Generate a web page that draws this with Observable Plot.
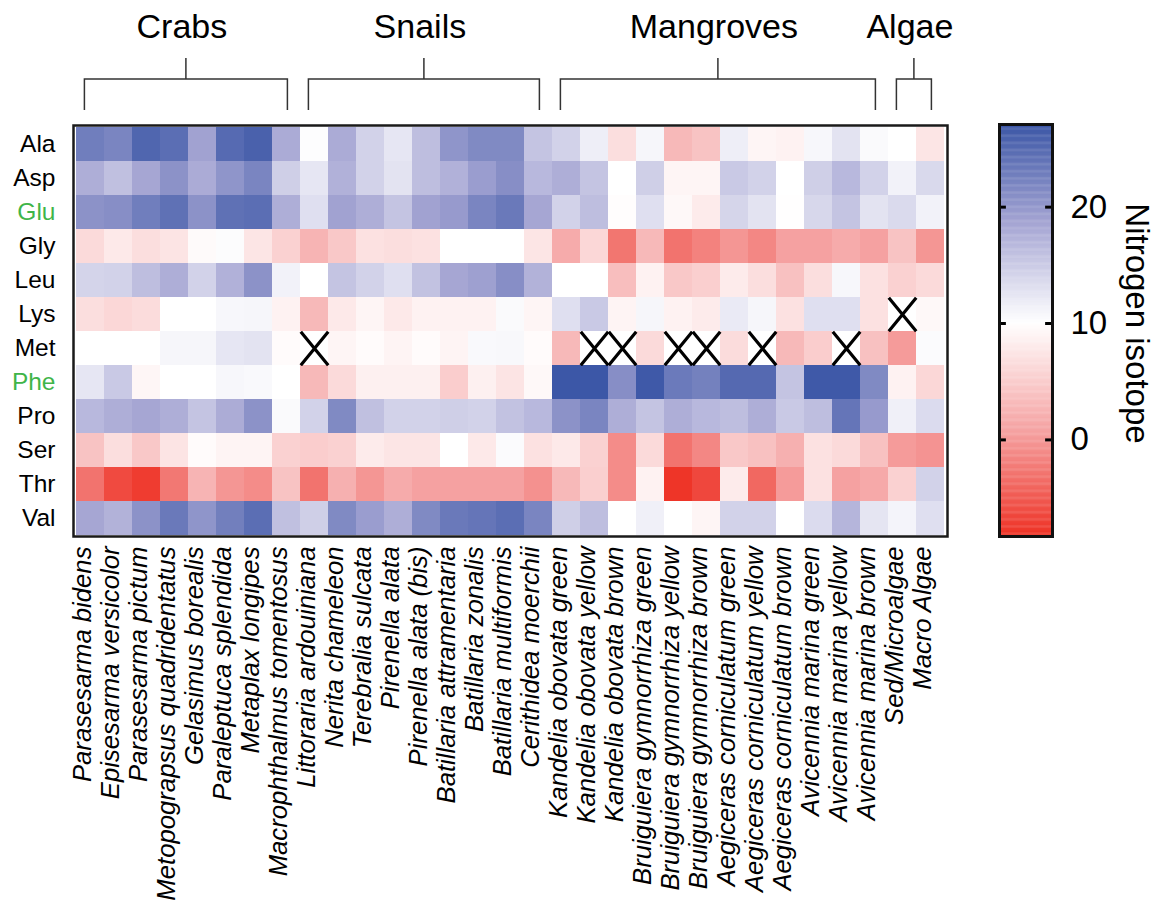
<!DOCTYPE html>
<html><head><meta charset="utf-8">
<script src="https://cdn.jsdelivr.net/npm/d3@7"></script>
<script src="https://cdn.jsdelivr.net/npm/@observablehq/plot@0.6"></script>
<style>
body{margin:0;background:#fff}
#wrap{position:relative;width:1162px;height:902px}
#wrap svg{position:absolute;left:0;top:0}
</style>
</head><body><div id="wrap"></div>
<script>
const species = ["Parasesarma bidens","Episesarma versicolor","Parasesarma pictum","Metopograpsus quadridentatus","Gelasimus borealis","Paraleptuca splendida","Metaplax longipes","Macrophthalmus tomentosus","Littoraria ardouiniana","Nerita chameleon","Terebralia sulcata","Pirenella alata","Pirenella alata (bis)","Batillaria attramentaria","Batillaria zonalis","Batillaria multiformis","Cerithidea moerchii","Kandelia obovata green","Kandelia obovata yellow","Kandelia obovata brown","Bruiguiera gymnorrhiza green","Bruiguiera gymnorrhiza yellow","Bruiguiera gymnorrhiza brown","Aegiceras corniculatum green","Aegiceras corniculatum yellow","Aegiceras corniculatum brown","Avicennia marina green","Avicennia marina yellow","Avicennia marina brown","Sed/Microalgae","Macro Algae"];
const aminoAcids = ["Ala","Asp","Glu","Gly","Leu","Lys","Met","Phe","Pro","Ser","Thr","Val"];
const greenRows = ["Glu","Phe"];

const ala = [22.8,22,25.4,24.5,18.9,24.9,25.9,18,10.2,18,14.3,12.4,16.2,20.3,21.5,21.5,15.6,14.3,11.6,6.7,10.9,3,4,11.6,9,8.7,10.8,12.7,10.5,10,7.4];
const asp = [17.7,16,18.5,20.6,18,20.3,22,14.6,12.4,17.4,14.3,12.7,16.2,17.4,19.4,21,16.7,17.7,15.6,10,14.6,9,9,15.1,14.3,10,14.6,16.7,14.3,11.2,13.6];
const glu = [20.6,21,22.8,24.2,20.6,24.2,24.5,17.7,13,18.9,17.7,15.6,18.9,19.7,22,23.3,18.5,14.3,16.2,9.8,13,9.3,8,14,12.7,9.9,13.8,15.6,12.7,13.5,11.2];
const gly = [6.3,7.8,6.7,7.3,9.5,10.3,7.4,5.4,2.5,4.5,7,6.7,7,10,10,10,7.4,1.6,6,-2.8,3,-3,-1.8,-0.2,-1.4,0.7,0.7,1.6,0.7,4,-0.2];
const leu = [14.1,14.3,16.2,17.7,14.3,17.4,20.6,11.2,10,15.6,14.3,13,15.8,18.5,19.1,21,17.3,10,10,3.5,8.7,4.5,5.2,8,6.7,3.8,6.7,10.8,7,5.4,6.3];
const lys = [6.7,6,6.5,10,10,10.8,10.9,8.7,3,7.8,9,7.8,8.7,8.7,8.7,10.5,9,13,15.1,8.9,10.9,8.7,8,12,10.9,7,13,13,7,null,9.3];
const met = [10,10,10,10.9,10.9,12.4,12.7,9.6,null,9,9.6,8.9,9.6,8.9,10.6,10.7,9.6,3,null,null,6.3,null,null,6.5,null,3,5,null,3.8,0.2,10.4];
const phe = [12.4,15.1,9.1,10,10,10.8,10.6,10,3,6.3,8.5,8.5,8.5,5,8.5,7.3,9.3,27,27,21,26.8,23.2,22.5,25,25,15.6,26.8,26.8,21.5,8.7,6];
const pro = [16.7,17.7,18.5,17.7,15.6,17.9,20.6,10.5,14.3,21.5,16,14.3,14.3,14.6,14.3,15.8,16.7,20.6,22,17.7,15.6,17.7,16.7,16.2,17.7,15.1,16.2,23.7,19.7,11.4,13.4];
const ser = [4,6.7,4.5,7.3,9.6,8.9,8.9,5.4,5,5.4,8,7.4,7.4,10,7.8,10.4,7,7.8,5.4,-1,6.3,-3,-1.4,4.5,3.8,2.1,7,6.3,3.8,0.2,-0.4];
const thr = [-3,-6.3,-7.4,-2.6,2.5,-0.2,-1,4,-3,2.1,-0.2,1.6,0.7,0.7,0.7,0.7,-0.6,3,5.2,-1,8.7,-8,-6.5,8,-3.9,0.2,7,0.7,1.4,5.4,14.3];
const val = [18.5,17.3,20.6,23.3,20.3,22.7,24.5,16,14.6,21.5,19.4,17.7,21.5,23.3,23.7,24.5,22,14.6,16.2,10,11.4,10,9,14.3,14.3,10,13.4,17,12.5,11,13];

const groupNames = ["Crabs","Snails","Mangroves","Algae"];
const groupFirst = ["Parasesarma bidens","Littoraria ardouiniana","Kandelia obovata green","Sed/Microalgae"];
const groupLast = ["Macrophthalmus tomentosus","Cerithidea moerchii","Avicennia marina brown","Macro Algae"];

const colorTicks = [0,10,20];
const colorMin = -8.3, colorPivot = 10, colorMax = 27.1;
const colorLabel = "Nitrogen isotope";

const FONT = "'Liberation Sans', Arial, Helvetica, sans-serif";
const GREEN = "#3fb549";

const series = [ala,asp,glu,gly,leu,lys,met,phe,pro,ser,thr,val];
const table = aminoAcids.flatMap((aa,i) => series[i].map((v,j) => ({aa, sp: species[j], v})));
const cells = table.filter(d => d.v != null);
const crosses = table.filter(d => d.v == null);

const colorScale = {
  type: "linear",
  domain: [colorMin, (colorMin+colorPivot)/2, colorPivot, (colorPivot+colorMax)/2, colorMax],
  range: ["#ee3124","#f5a3a3","#ffffff","#a5a5d3","#3b56a6"],
  interpolate: "rgb"
};

const crossSymbol = {
  draw(ctx, size) {
    const s = Math.sqrt(size / Math.PI);
    const w = s * 0.98, h = s * 1.2;
    ctx.moveTo(-w, -h); ctx.lineTo(w, h);
    ctx.moveTo(w, -h); ctx.lineTo(-w, h);
  }
};

const chart = Plot.plot({
  width: 1162, height: 902,
  marginLeft: 73, marginRight: 215, marginTop: 125, marginBottom: 366,
  style: {fontFamily: FONT, background: "transparent", color: "black"},
  x: {domain: species, axis: null, padding: 0},
  y: {domain: aminoAcids, axis: null, padding: 0},
  color: colorScale,
  marks: [
    Plot.cell(cells, {x: "sp", y: "aa", fill: "v", inset: 0, shapeRendering: "crispEdges"}),
    Plot.dot(crosses, {x: "sp", y: "aa", r: 14, symbol: crossSymbol, fill: "none", stroke: "black", strokeWidth: 3.2}),
    Plot.frame({stroke: "#1a1a1a", strokeWidth: 2.5}),
    Plot.text(aminoAcids.filter(d => !greenRows.includes(d)), {y: d => d, text: d => d, frameAnchor: "left", dx: -18, textAnchor: "end", fontSize: 24.5, fill: "black"}),
    Plot.text(greenRows, {y: d => d, text: d => d, frameAnchor: "left", dx: -18, textAnchor: "end", fontSize: 24.5, fill: GREEN}),
    Plot.text(species, {x: d => d, text: d => d, frameAnchor: "bottom", dy: 10, rotate: -90, textAnchor: "end", fontSize: 25.7, fontStyle: "italic", fill: "black"})
  ]
});

const xs = chart.scale("x");
const bw = xs.bandwidth;
const root = d3.select(chart);
const bg = root.append("g").attr("fill", "none").attr("stroke", "#333").attr("stroke-width", 1.5);
groupNames.forEach((name, i) => {
  const a = xs.apply(groupFirst[i]) + bw * 0.3, b = xs.apply(groupLast[i]) + bw * 0.55, m = (a + b) / 2;
  bg.append("path").attr("d", `M${a},110V79H${b}V110M${m},79V58`);
  root.append("text").attr("x", m - 4).attr("y", 38).attr("text-anchor", "middle")
    .attr("font-size", 34).attr("fill", "black").attr("font-family", FONT).text(name);
});

const step = 0.1;
const steps = d3.range(colorMin, colorMax, step);
const bar = Plot.plot({
  width: 1162, height: 902,
  marginLeft: 999, marginRight: 110, marginTop: 124, marginBottom: 366,
  style: {fontFamily: FONT, background: "transparent", color: "black"},
  x: {domain: [0, 1], axis: null},
  y: {domain: [colorMin, colorMax]},
  color: colorScale,
  marks: [
    Plot.rect(steps, {x1: 0, x2: 1, y1: d => d, y2: d => Math.min(colorMax, d + step * 1.3), fill: d => d + step / 2}),
    Plot.ruleY(colorTicks, {x1: 0, x2: 0.13, stroke: "black", strokeWidth: 3}),
    Plot.ruleY(colorTicks, {x1: 0.87, x2: 1, stroke: "black", strokeWidth: 3}),
    Plot.frame({stroke: "#111", strokeWidth: 3}),
    Plot.axisY(colorTicks, {anchor: "right", tickSize: 0, tickPadding: 18, fontSize: 33, label: null, fill: "black"}),
    Plot.text([colorLabel], {text: d => d, frameAnchor: "right", dx: 84, dy: -7, rotate: 90, textAnchor: "middle", fontSize: 33, fill: "black"})
  ]
});

const wrap = document.getElementById("wrap");
wrap.appendChild(chart);
wrap.appendChild(bar);
</script>
</body></html>
